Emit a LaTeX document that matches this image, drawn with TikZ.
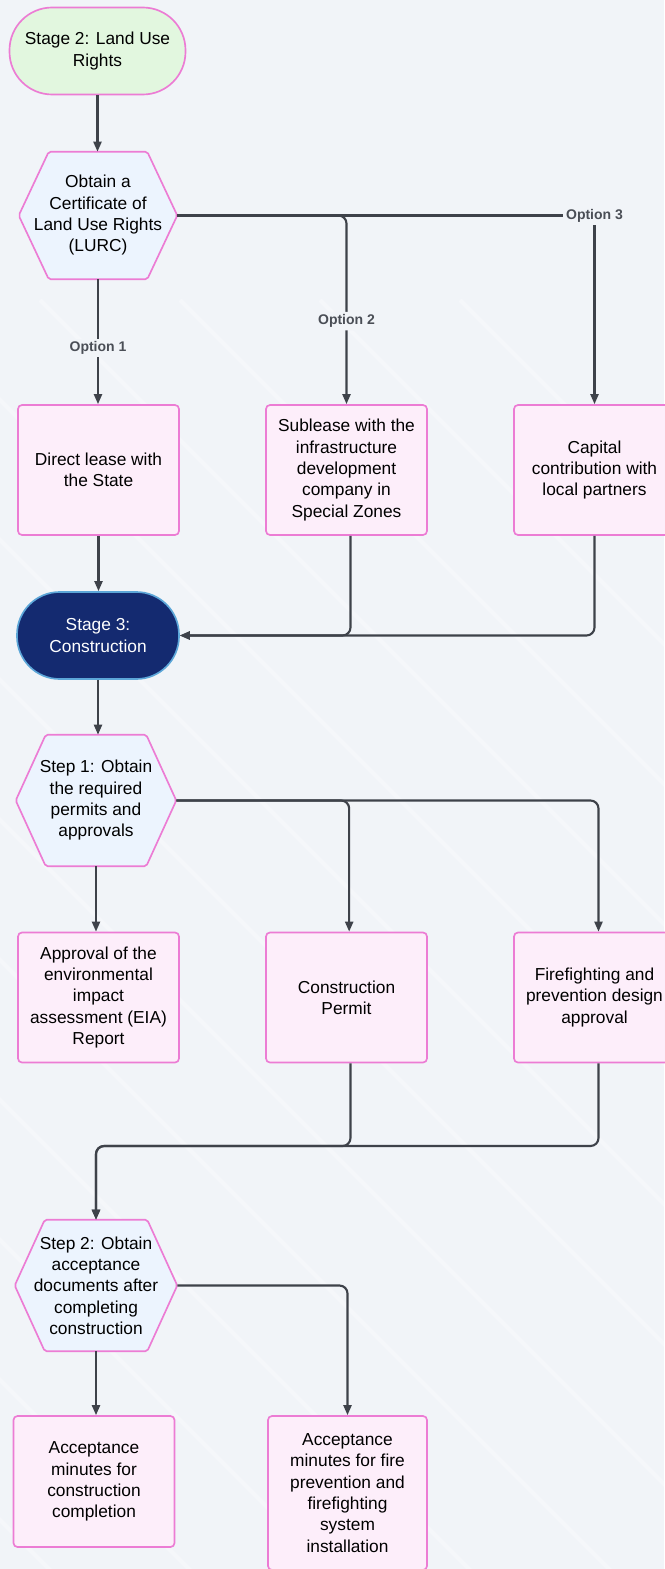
\documentclass[tikz,border=0pt]{standalone}
\usepackage{fontspec}
\setmainfont{Liberation Sans}
\usetikzlibrary{arrows.meta,backgrounds}

\definecolor{pagebg}{RGB}{241,244,248}
\definecolor{pinkline}{RGB}{236,124,212}
\definecolor{greenfill}{RGB}{226,247,223}
\definecolor{bluefill}{RGB}{236,244,254}
\definecolor{pinkfill}{RGB}{253,238,250}
\definecolor{navyfill}{RGB}{20,42,112}
\definecolor{skyline}{RGB}{92,166,216}
\definecolor{connline}{RGB}{62,66,74}
\definecolor{optiontext}{RGB}{74,78,86}

\tikzset{every picture/.style={line width=0.75pt}}
\tikzset{
  txt/.style={font=\fontsize{13}{16}\selectfont, align=center, inner sep=0.75pt},
  terminal/.style={txt, draw=pinkline, line width=1.25pt, fill=greenfill, rounded corners=32pt, minimum width=132pt, minimum height=65.25pt},
  darkterminal/.style={terminal, draw=skyline, fill=navyfill, text=white, minimum width=121.5pt},
  hexbox/.style={txt, minimum height=95.25pt},
  taskbox/.style={txt, draw=pinkline, line width=1.25pt, fill=pinkfill, rounded corners=3pt, minimum width=120.75pt, minimum height=97.5pt},
  hexline/.style={draw=pinkline, line width=1.25pt, fill=bluefill, rounded corners=1.5pt},
  conn/.style={draw=connline, line width=1.6pt, -{Triangle[length=7.5pt,width=6pt]}},
  optlabel/.style={font=\fontsize{10.5}{12}\selectfont\bfseries, text=optiontext, fill=pagebg, inner sep=2pt},
  streak/.style={draw=white, line width=3pt, opacity=0.3},
}

% hexagon drawn behind a named text node
\newcommand{\hexshape}[1]{%
  \begin{pgfonlayer}{background}
  \path[hexline] (#1.west) -- ([xshift=22.5pt]#1.north west) -- ([xshift=-22.5pt]#1.north east) -- (#1.east) -- ([xshift=-22.5pt]#1.south east) -- ([xshift=22.5pt]#1.south west) -- cycle;
  \end{pgfonlayer}}

\begin{document}
\begin{tikzpicture}[x=0.75pt,y=0.75pt,yscale=-1,xscale=1]
\useasboundingbox (0,0) rectangle (664,1569);
\begin{pgfonlayer}{background}
\fill[pagebg] (0,0) rectangle (664,1569);
\begin{scope}
\clip (0,0) rectangle (664,1569);
\foreach \s in {-1500,-1360,...,560} \draw[streak] (\s,300) -- ++(1300,1300);
\end{scope}
\end{pgfonlayer}

% Text Node
\node[terminal] (stage2) at (97.5,51) {Stage 2: Land Use\\Rights};
% Text Node
\node[hexbox, minimum width=118.5pt] (obtain) at (98,215.5) {Obtain a\\Certificate of\\Land Use Rights\\(LURC)};
\hexshape{obtain}
% Text Node
\node[taskbox] (lease) at (98.5,470) {Direct lease with\\the State};
% Text Node
\node[taskbox] (sublease) at (346.5,470) {Sublease with the\\infrastructure\\development\\company in\\Special Zones};
% Text Node
\node[taskbox] (capital) at (594.5,470) {Capital\\contribution with\\local partners};
% Text Node
\node[darkterminal] (stage3) at (98,635.5) {Stage 3:\\Construction};
% Text Node
\node[hexbox, minimum width=120pt, minimum height=98.25pt] (permits) at (96,800.5) {Step 1: Obtain\\the required\\permits and\\approvals};
\hexshape{permits}
% Text Node
\node[taskbox] (eia) at (98.5,997.5) {Approval of the\\environmental\\impact\\assessment (EIA)\\Report};
% Text Node
\node[taskbox] (construct) at (346.5,997.5) {Construction\\Permit};
% Text Node
\node[taskbox] (fire) at (594.5,997.5) {Firefighting and\\prevention design\\approval};
% Text Node
\node[hexbox, minimum width=121.5pt, minimum height=98.25pt] (accept) at (96,1285.5) {Step 2: Obtain\\acceptance\\documents after\\completing\\construction};
\hexshape{accept}
% Text Node
\node[taskbox, minimum height=98.25pt] (minutesA) at (94,1481.5) {Acceptance\\minutes for\\construction\\completion};
% Text Node
\node[taskbox, minimum width=119.25pt, minimum height=115.5pt] (minutesB) at (347.5,1493) {Acceptance\\minutes for fire\\prevention and\\firefighting\\system\\installation};

% Connection
\draw[conn] (stage2.south) -- (stage2.south |- obtain.north);
% Connection
\draw[conn] (obtain.south) -- node[optlabel, pos=0.55] {Option 1} (obtain.south |- lease.north);
% Connection
\draw[conn, rounded corners=6pt] (obtain.east) -| node[optlabel, pos=0.78] {Option 2} (sublease.north);
% Connection
\draw[conn] (obtain.east) -| node[optlabel, pos=0.5] {Option 3} (capital.north);
% Connection
\draw[conn] (lease.south) -- (lease.south |- stage3.north);
% Connection
\draw[conn, rounded corners=6pt] ([xshift=3pt]sublease.south) |- (stage3.east);
% Connection
\draw[conn, rounded corners=6pt] (capital.south) |- (stage3.east);
% Connection
\draw[conn] (stage3.south) -- (stage3.south |- permits.north);
% Connection
\draw[conn] (permits.south) -- (permits.south |- eia.north);
% Connection
\draw[conn, rounded corners=6pt] (permits.east) -| ([xshift=2pt]construct.north);
% Connection
\draw[conn, rounded corners=6pt] (permits.east) -| ([xshift=3pt]fire.north);
% Connection
\coordinate (join2) at (96,1146);
\draw[conn, rounded corners=6pt] ([xshift=3pt]construct.south) |- (join2) -- (accept.north);
\draw[conn, rounded corners=6pt] ([xshift=3pt]fire.south) |- (join2) -- (accept.north);
% Connection
\draw[conn] (accept.south) -- (accept.south |- minutesA.north);
% Connection
\draw[conn, rounded corners=6pt] (accept.east) -| (minutesB.north);

\end{tikzpicture}
\end{document}
